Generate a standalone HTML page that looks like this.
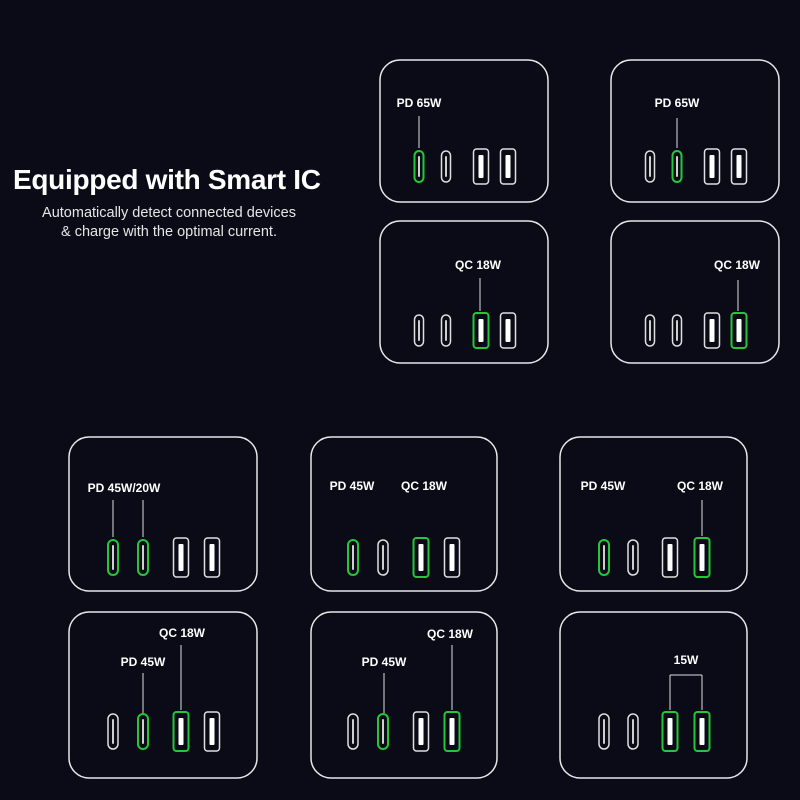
<!DOCTYPE html>
<html><head><meta charset="utf-8"><style>
body{margin:0;background:#0b0b17;width:800px;height:800px;overflow:hidden;font-family:"Liberation Sans",sans-serif;position:relative}
.t{position:absolute;color:#fff}
svg{position:absolute;left:0;top:0}
</style></head><body>
<div class="t" style="left:13px;top:164px;font-size:28px;font-weight:bold;letter-spacing:-0.3px">Equipped with Smart IC</div>
<div class="t" style="left:14px;top:204px;width:310px;text-align:center;font-size:14.5px;line-height:19px;color:#e6e6e6">Automatically detect connected devices<br>&amp; charge with the optimal current.</div>
<svg id="s" width="800" height="800"></svg>
<script>
const cards=[
 {x:380,y:60,w:168,h:142,off:[39,66,101,128],py:151,big:0,green:[0],labels:[["PD 65W",419,107]],lines:[[419,116,419,148]]},
 {x:611,y:60,w:168,h:142,off:[39,66,101,128],py:151,big:0,green:[1],labels:[["PD 65W",677,107]],lines:[[677,118,677,148]]},
 {x:380,y:221,w:168,h:142,off:[39,66,101,128],py:315,big:0,green:[2],labels:[["QC 18W",478,269]],lines:[[480,278,480,311]]},
 {x:611,y:221,w:168,h:142,off:[39,66,101,128],py:315,big:0,green:[3],labels:[["QC 18W",737,269]],lines:[[738,280,738,311]]},
 {x:69,y:437,w:188,h:154,off:[44,74,112,143],py:540,big:1,green:[0,1],labels:[["PD 45W/20W",124,492]],lines:[[113,500,113,537],[143,500,143,537]]},
 {x:311,y:437,w:186,h:154,off:[42,72,110,141],py:540,big:1,green:[0,2],labels:[["PD 45W",352,490],["QC 18W",424,490]],lines:[]},
 {x:560,y:437,w:187,h:154,off:[44,73,110,142],py:540,big:1,green:[0,3],labels:[["PD 45W",603,490],["QC 18W",700,490]],lines:[[702,500,702,536]]},
 {x:69,y:612,w:188,h:166,off:[44,74,112,143],py:714,big:1,green:[1,2],labels:[["QC 18W",182,637],["PD 45W",143,666]],lines:[[181,645,181,710],[143,673,143,713]]},
 {x:311,y:612,w:186,h:166,off:[42,72,110,141],py:714,big:1,green:[1,3],labels:[["QC 18W",450,638],["PD 45W",384,666]],lines:[[452,645,452,710],[384,673,384,713]]},
 {x:560,y:612,w:187,h:166,off:[44,73,110,142],py:714,big:1,green:[2,3],labels:[["15W",686,664]],lines:[[670,675,702,675],[670,675,670,710],[702,675,702,710]]}
];
const s=document.getElementById('s');
const NS='http://www.w3.org/2000/svg';
function mk(t,a){const e=document.createElementNS(NS,t);for(const k in a)e.setAttribute(k,a[k]);s.appendChild(e);return e;}
cards.forEach((c,i)=>{
 const r=mk('rect',{x:c.x,y:c.y,width:c.w,height:c.h,rx:20,fill:'none',stroke:'#e8e8e8','stroke-width':1.5});
 
 
 c.off.forEach((o,j)=>{
  const g=c.green.includes(j);
  const cx=c.x+o; const isA=j>=2;
  const w=isA?15:(c.big?10:9);
  const h=isA?(c.big?39:35):(c.big?35:31);
  const y=c.py+(isA?-2:0);
  const p=mk('rect',{x:cx-w/2,y:y,width:w,height:h,rx:isA?3:w/2,fill:'none',stroke:g?'#22c83a':'#e0e0e0','stroke-width':g?2:1.5});
  
  
  const inner=mk('rect',{x:cx-(isA?2.5:1),y:y+(isA?6:5),width:isA?5:2,height:h-(isA?12:10),rx:1,fill:isA?'#fff':'#cfcfcf'});
  
  
 });
 c.labels.forEach(l=>{
  const t=mk('text',{x:l[1],y:l[2],fill:'#fff','font-size':12,'font-weight':'bold','text-anchor':'middle','font-family':'Liberation Sans, sans-serif'});
  t.textContent=l[0];
  
  
 });
 c.lines.forEach(L=>{
  const ln=mk('line',{x1:L[0],y1:L[1],x2:L[2],y2:L[3],stroke:'#ddd','stroke-width':1});
  
  
 });
});
</script>
</body></html>
